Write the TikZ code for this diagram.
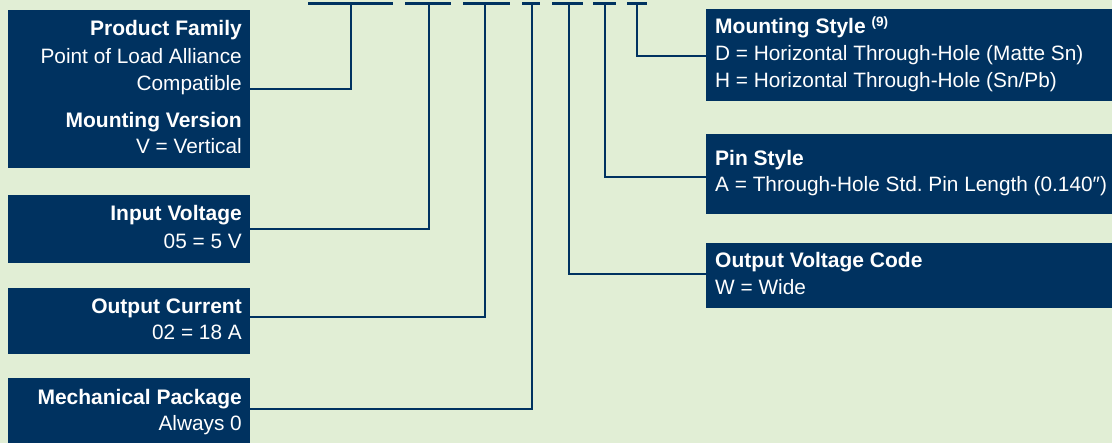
\documentclass[tikz,border=0pt]{standalone}
\usepackage{fontspec}
\setmainfont{Liberation Sans}
\definecolor{navy}{RGB}{0,50,96}
\definecolor{bg}{RGB}{225,238,213}
\begin{document}
\begin{tikzpicture}[x=1pt,y=-1pt,
  box/.style={fill=navy, draw=none, inner sep=0pt, anchor=north west},
  conn/.style={draw=navy, line width=2.4pt},
  lbl/.style={text=white, inner sep=0pt, font=\fontsize{20.8}{24}\selectfont},
  hd/.style={text=white, inner sep=0pt, font=\fontsize{21}{24}\selectfont\bfseries}]
\fill[bg] (0,0) rectangle (1112,443);
\useasboundingbox (0,0) rectangle (1112,443);

% top bar segments
\foreach \a/\b in {308/393,405/451,463/510,522/540,552/583,593/616,627/647}
  \draw[conn] (\a,3.7) -- (\b,3.7);

% stem tops
\coordinate (s1) at (351,3.7);
\coordinate (s2) at (429,3.7);
\coordinate (s3) at (485,3.7);
\coordinate (s4) at (532,3.7);
\coordinate (s5) at (569,3.7);
\coordinate (s6) at (605,3.7);
\coordinate (s7) at (637,3.7);

% boxes
\node[box, minimum width=242pt, minimum height=158pt] (pf) at (8,10) {};
\node[box, minimum width=242pt, minimum height=68pt] (iv) at (8,195) {};
\node[box, minimum width=242pt, minimum height=66pt] (oc) at (8,288) {};
\node[box, minimum width=242pt, minimum height=66pt] (mp) at (8,378) {};
\node[box, minimum width=406pt, minimum height=92pt] (ms) at (706,9) {};
\node[box, minimum width=406pt, minimum height=80pt] (ps) at (706,134) {};
\node[box, minimum width=406pt, minimum height=65pt] (ov) at (706,243) {};

% connectors
\draw[conn] (pf.east |- 0,89) -| (s1);
\draw[conn] (iv.east |- 0,229.3) -| (s2);
\draw[conn] (oc.east |- 0,317) -| (s3);
\draw[conn] (mp.east |- 0,409.3) -| (s4);
\draw[conn] (ov.west |- 0,274) -| (s5);
\draw[conn] (ps.west |- 0,177.3) -| (s6);
\draw[conn] (ms.west |- 0,56) -| (s7);

% left texts
\node[hd, anchor=base east] (t1) at (242,36) {Product Family};
\node[lbl, anchor=base east] (t2) at (242,63.3) {Point of Load Alliance};
\node[lbl, anchor=base east] (t3) at (242,90.5) {Compatible};
\node[hd, anchor=base east] (t4) at (242,127.3) {Mounting Version};
\node[lbl, anchor=base east] (t5) at (242,154) {V = Vertical};

\node[hd, anchor=base east] (t6) at (242,221) {Input Voltage};
\node[lbl, anchor=base east] (t7) at (242,248.3) {05 = 5 V};

\node[hd, anchor=base east] (t8) at (242,313.3) {Output Current};
\node[lbl, anchor=base east] (t9) at (242,339.5) {02 = 18 A};

\node[hd, anchor=base east] (t10) at (242,405) {Mechanical Package};
\node[lbl, anchor=base east] (t11) at (242,431) {Always 0};

% right texts
\node[hd, anchor=base west] (r1) at (715,33.3) {Mounting Style\hspace{6pt}\raisebox{6.5pt}{\fontsize{13.5}{14}\selectfont (9)}};
\node[lbl, anchor=base west] (r2) at (715,61) {D = Horizontal Through-Hole (Matte Sn)};
\node[lbl, anchor=base west] (r3) at (715,87.7) {H = Horizontal Through-Hole (Sn/Pb)};

\node[hd, anchor=base west] (r4) at (715,165.7) {Pin Style};
\node[lbl, anchor=base west] (r5) at (715,191.7) {A = Through-Hole Std.\ Pin Length (0.140″)};

\node[hd, anchor=base west] (r6) at (715,267.7) {Output Voltage Code};
\node[lbl, anchor=base west] (r7) at (715,294.7) {W = Wide};
\end{tikzpicture}
\end{document}
